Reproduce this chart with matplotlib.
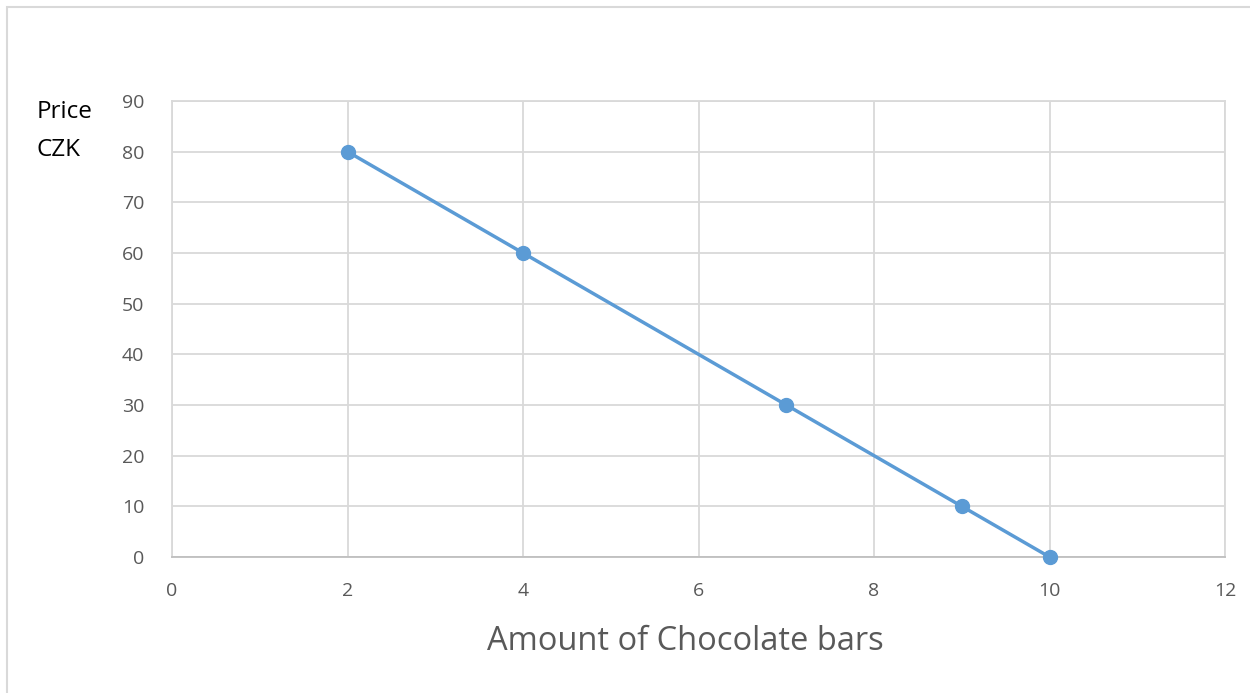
import matplotlib.pyplot as plt
from matplotlib.patches import Rectangle

# Demand data
amount = [2, 4, 7, 9, 10]
price = [80, 60, 30, 10, 0]
x_ticks = [0, 2, 4, 6, 8, 10, 12]
y_ticks = [0, 10, 20, 30, 40, 50, 60, 70, 80, 90]

plt.rcParams["font.family"] = ["Open Sans", "DejaVu Sans"]

fig = plt.figure(figsize=(12.5, 6.93), dpi=100)
ax = fig.add_axes([0.1376, 0.1963, 0.8424, 0.658])

# light chart-area border (only top and left visible in the reference)
fig.patches.append(Rectangle((7 / 1250, -0.1), 1.2, 1 - 7 / 693 + 0.1,
                             transform=fig.transFigure, fill=False,
                             edgecolor="#d9d9d9", linewidth=1.5))

ax.plot(amount, price, color="#5b9bd5", linewidth=2.5, marker="o",
        markersize=10, zorder=3, clip_on=False)

ax.set_xlim(0, 12)
ax.set_ylim(0, 90)
ax.set_xticks(x_ticks)
ax.set_yticks(y_ticks)
ax.grid(True, color="#d9d9d9", linewidth=1.3)
ax.set_axisbelow(True)
for s in ax.spines.values():
    s.set_color("#d9d9d9")
    s.set_linewidth(1.3)
ax.spines["bottom"].set_color("#bfbfbf")
ax.tick_params(length=0, labelsize=14, labelcolor="#595959")
ax.tick_params(axis="x", pad=18)
ax.tick_params(axis="y", pad=20)

ax.set_xlabel("Amount of Chocolate bars", fontsize=23.5, color="#595959", labelpad=18)
ax.xaxis.label.set_x(0.488)
fig.text(37 / 1250, 1 - 112 / 693, "Price", fontsize=17.5, color="black", va="center")
fig.text(37 / 1250, 1 - 150 / 693, "CZK", fontsize=17.5, color="black", va="center")

plt.savefig("out.png", dpi=100)
